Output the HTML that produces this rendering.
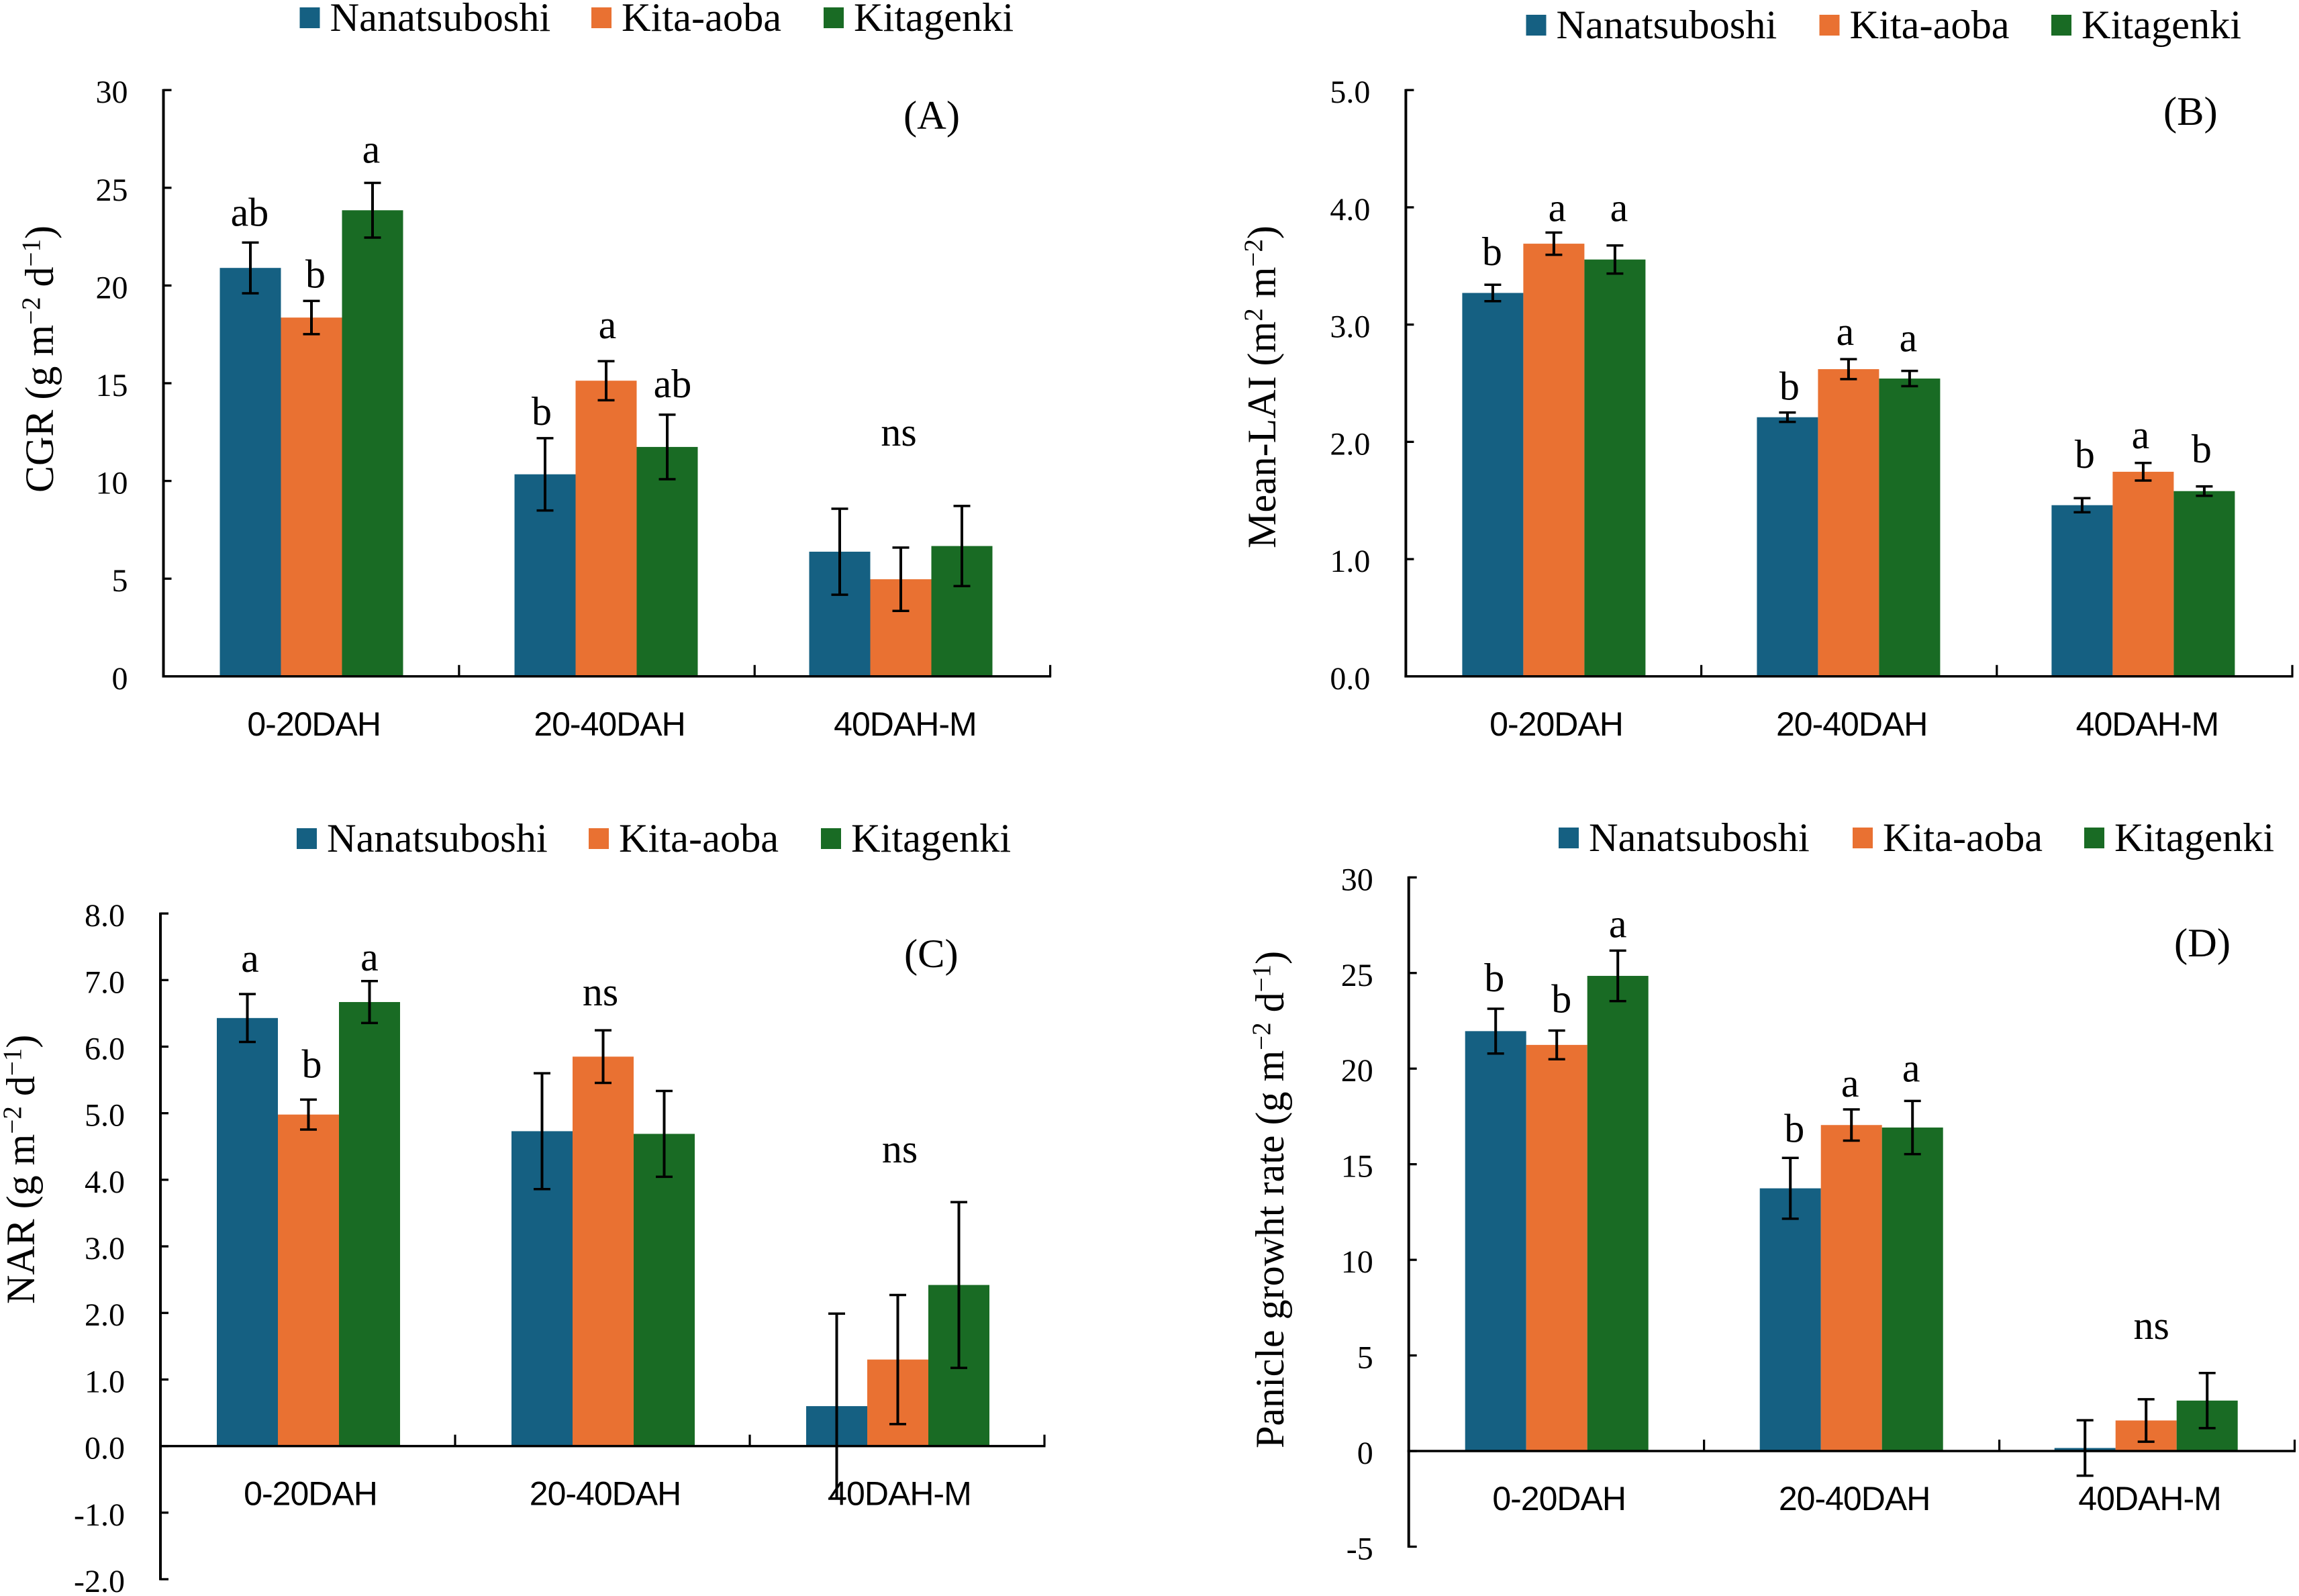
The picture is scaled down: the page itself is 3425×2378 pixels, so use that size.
<!DOCTYPE html>
<html lang="en">
<head>
<meta charset="utf-8">
<title>Crop growth charts</title>
<style>
html,body{margin:0;padding:0;background:#fff}
svg{display:block}
text{font-family:"Liberation Serif",serif;fill:#000}
.cat{font-family:"Liberation Sans",sans-serif;font-size:50px;letter-spacing:-1px;text-anchor:middle}
.tick{font-size:48px;text-anchor:end}
.sig{font-size:60px;text-anchor:middle}
.legend{font-size:60.4px}
.panel{font-size:60.5px}
.title{font-size:60px}
.title tspan.sup{font-size:39px}
</style>
</head>
<body>
<svg id="fig" xmlns="http://www.w3.org/2000/svg" width="3425" height="2378" viewBox="0 0 3425 2378">
<rect width="3425" height="2378" fill="#fff"/>

<text class="title" transform="translate(79,734) rotate(-90)">CGR (g m<tspan class="sup" dy="-20">−2</tspan><tspan dy="20"> d</tspan><tspan class="sup" dy="-20">−1</tspan><tspan dy="20">)</tspan></text>
<text class="title" transform="translate(1900,817) rotate(-90)">Mean-LAI (m<tspan class="sup" dy="-20">2</tspan><tspan dy="20"> m</tspan><tspan class="sup" dy="-20">−2</tspan><tspan dy="20">)</tspan></text>
<text class="title" transform="translate(51,1943) rotate(-90)">NAR (g m<tspan class="sup" dy="-20">−2</tspan><tspan dy="20"> d</tspan><tspan class="sup" dy="-20">−1</tspan><tspan dy="20">)</tspan></text>
<text class="title" transform="translate(1912,2158) rotate(-90)">Panicle growht rate (g m<tspan class="sup" dy="-20">−2</tspan><tspan dy="20"> d</tspan><tspan class="sup" dy="-20">−1</tspan><tspan dy="20">)</tspan></text>

<text class="panel" x="1346" y="192">(A)</text>
<text class="panel" x="3223" y="186">(B)</text>
<text class="panel" x="1347" y="1441">(C)</text>
<text class="panel" x="3239" y="1425">(D)</text>
</svg>

<script>
const categories = ['0-20DAH', '20-40DAH', '40DAH-M'];
const seriesNames = ['Nanatsuboshi', 'Kita-aoba', 'Kitagenki'];

// Each inner array is one cultivar across the three growth periods.
const cgrMeans = [[20.9, 10.34, 6.38], [18.36, 15.13, 4.97], [23.85, 11.74, 6.67]];
const cgrErrors = [[1.3, 1.85, 2.2], [0.85, 1.0, 1.62], [1.4, 1.65, 2.05]];
const cgrLetters = [['ab', 'b', 'a'], ['b', 'a', 'ab'], ['ns']];
const cgrTicks = ['0', '5', '10', '15', '20', '25', '30'];

const laiMeans = [[3.27, 2.21, 1.46], [3.69, 2.62, 1.745], [3.555, 2.54, 1.58]];
const laiErrors = [[0.07, 0.04, 0.06], [0.095, 0.085, 0.075], [0.12, 0.065, 0.04]];
const laiLetters = [['b', 'a', 'a'], ['b', 'a', 'a'], ['b', 'a', 'b']];
const laiTicks = ['0.0', '1.0', '2.0', '3.0', '4.0', '5.0'];

const narMeans = [[6.43, 4.73, 0.6], [4.98, 5.85, 1.3], [6.67, 4.69, 2.42]];
const narErrors = [[0.36, 0.87, 1.39], [0.225, 0.395, 0.97], [0.315, 0.645, 1.245]];
const narLetters = [['a', 'b', 'a'], ['ns'], ['ns']];
const narTicks = ['-2.0', '-1.0', '0.0', '1.0', '2.0', '3.0', '4.0', '5.0', '6.0', '7.0', '8.0'];

const pgrMeans = [[21.96, 13.74, 0.16], [21.24, 17.05, 1.6], [24.85, 16.92, 2.64]];
const pgrErrors = [[1.17, 1.59, 1.45], [0.75, 0.815, 1.11], [1.32, 1.39, 1.44]];
const pgrLetters = [['b', 'b', 'a'], ['b', 'a', 'a'], ['ns']];
const pgrTicks = ['-5', '0', '5', '10', '15', '20', '25', '30'];

const colors = ['#156082', '#E97132', '#196B24'];
const NS = 'http://www.w3.org/2000/svg';
const fig = document.getElementById('fig');

function make(parent, tag, attrs, text) {
  const el = document.createElementNS(NS, tag);
  for (const k in attrs) el.setAttribute(k, attrs[k]);
  if (text !== undefined) el.textContent = text;
  parent.appendChild(el);
  return el;
}

function drawPanel(p) {
  const g = make(fig, 'g', {});
  
  

  const lo = Number(p.ticks[0]);
  const hi = Number(p.ticks[p.ticks.length - 1]);
  const y = v => p.yTop + (hi - v) * (p.yBot - p.yTop) / (hi - lo);
  const catW = (p.xEnd - p.x0) / categories.length;
  const barW = 91;
  const xBar = (c, s) => p.x0 + 84 + c * 439 + s * barW;
  const xMid = (c, s) => xBar(c, s) + barW / 2;
  const zero = y(0);

  // bars
  p.means.forEach((vals, s) => vals.forEach((v, c) => {
    const bar = make(g, 'rect', {
      x: xBar(c, s), y: Math.min(y(v), zero), width: barW,
      height: Math.abs(zero - y(v)), fill: colors[s]
    });
    
    
  }));

  // y axis
  const yAxis = make(g, 'line', {x1: p.x0, x2: p.x0, y1: p.yTop - 1.5, y2: p.yBot + 1.5, stroke: '#000', 'stroke-width': 4});
  
  

  p.ticks.forEach(t => {
    const v = Number(t);
    const mark = make(g, 'line', {x1: p.x0, x2: p.x0 + 12, y1: y(v), y2: y(v), stroke: '#000', 'stroke-width': 3.3});
    
    
    const label = make(g, 'text', {class: 'tick', x: p.x0 - 53, y: y(v) + 19}, t);
    
    
  });

  // x axis
  const xAxis = make(g, 'line', {x1: p.x0 - 2, x2: p.xEnd + 1.5, y1: zero, y2: zero, stroke: '#000', 'stroke-width': 3.5});
  
  

  categories.forEach((name, c) => {
    const mark = make(g, 'line', {x1: p.x0 + (c + 1) * catW, x2: p.x0 + (c + 1) * catW, y1: zero, y2: zero - 17, stroke: '#000', 'stroke-width': 3.2});
    
    
    const label = make(g, 'text', {class: 'cat', x: p.x0 + (c + 0.5) * catW + 4, y: zero + 88}, name);
    
    
  });

  // error bars
  p.means.forEach((vals, s) => vals.forEach((v, c) => {
    const e = p.errors[s][c];
    const xm = xMid(c, s);
    const stem = make(g, 'line', {x1: xm, x2: xm, y1: y(v + e), y2: y(v - e), stroke: '#000', 'stroke-width': 4});
    
    
    const capTop = make(g, 'line', {x1: xm - 12.5, x2: xm + 12.5, y1: y(v + e), y2: y(v + e), stroke: '#000', 'stroke-width': 3.5});
    
    
    const capBottom = make(g, 'line', {x1: xm - 12.5, x2: xm + 12.5, y1: y(v - e), y2: y(v - e), stroke: '#000', 'stroke-width': 3.5});
    
    
  }));

  // significance letters: sit a fixed clearance above the whisker they annotate
  p.letters.forEach((row, c) => {
    if (row.length === 1) {
      const top = Math.max(...p.means.map((m, s) => m[c] + p.errors[s][c]));
      const ns = make(g, 'text', {class: 'sig', x: xMid(c, 1) + p.nudge[c][0], y: y(top) - p.lift[c][0]}, row[0]);
      
      
    } else {
      row.forEach((txt, s) => {
        const top = p.means[s][c] + p.errors[s][c];
        const lab = make(g, 'text', {class: 'sig', x: xMid(c, s) + p.nudge[c][s], y: y(top) - p.lift[c][s]}, txt);
        
        
      });
    }
  });

  // legend
  const lg = make(g, 'g', {});
  
  
  seriesNames.forEach((name, s) => {
    const swatch = make(lg, 'rect', {x: p.legendX[s], y: p.legendY, width: 30, height: 31, fill: colors[s]});
    
    
    const label = make(lg, 'text', {class: 'legend', x: p.legendX[s] + 45, y: p.legendY + 35}, name);
    
    
  });
}

drawPanel({key: 'a', means: cgrMeans, errors: cgrErrors, letters: cgrLetters, ticks: cgrTicks,
  x0: 243.5, xEnd: 1564.6, yTop: 134.2, yBot: 1007.8,
  lift: [[25, 20, 30], [20, 34, 26], [90]], nudge: [[-1, 6, -2], [-5, 2, 8], [-3]],
  legendX: [446.5, 881, 1227], legendY: 11});
drawPanel({key: 'b', means: laiMeans, errors: laiErrors, letters: laiLetters, ticks: laiTicks,
  x0: 2094.4, xEnd: 3415, yTop: 134.2, yBot: 1007.8,
  lift: [[29, 17, 36], [19, 21, 29], [45, 22, 36]], nudge: [[-1, 5, 6], [3, -5, -2], [4, -4, -4]],
  legendX: [2273.5, 2710.5, 3056], legendY: 22});
drawPanel({key: 'c', means: narMeans, errors: narErrors, letters: narLetters, ticks: narTicks,
  x0: 239, xEnd: 1556, yTop: 1361.1, yBot: 2353,
  lift: [[33, 33, 16], [37], [59]], nudge: [[4, 5, 0], [-4], [3]],
  legendX: [442, 877, 1223], legendY: 1234});
drawPanel({key: 'd', means: pgrMeans, errors: pgrErrors, letters: pgrLetters, ticks: pgrTicks,
  x0: 2098.7, xEnd: 3418.5, yTop: 1307.3, yBot: 2304.5,
  lift: [[26, 27, 20], [24, 19, 29], [51]], nudge: [[-2, 7, 0], [6, -2, -2], [8]],
  legendX: [2322, 2760, 3105], legendY: 1233});
</script>
</body>
</html>
